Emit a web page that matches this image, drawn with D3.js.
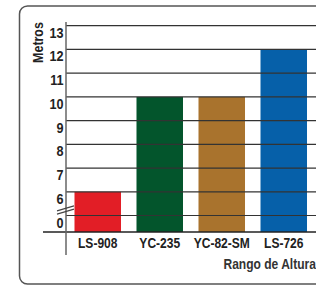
<!DOCTYPE html>
<html>
<head>
<meta charset="utf-8">
<script src="https://cdn.jsdelivr.net/npm/d3@7"></script>
<style>
  body { margin: 0; background: #fff; }
  svg text { font-family: 'Liberation Sans', Arial, sans-serif; }
</style>
</head>
<body>
<svg id="chart" width="316" height="286"></svg>
<script>
// chart data
const categories = ['LS-908', 'YC-235', 'YC-82-SM', 'LS-726'];
const heights = [6, 10, 10, 12];
const barColours = ['#e21e26', '#03552c', '#a9732d', '#0660a9'];
const tickValues = [0, 6, 7, 8, 9, 10, 11, 12, 13];

// the original uses a condensed face, so squeeze the text horizontally
const SQUEEZE = 0.83;

const svg = d3.select('#chart');

// rounded frame, cut off on the right like the original
svg.append('rect')
  .attr('x', 19.5).attr('y', 6)
  .attr('width', 330).attr('height', 278)
  .attr('rx', 8)
  .attr('fill', 'none')
  .attr('stroke', '#555')
  .attr('stroke-width', 1.5);

// broken axis: 0 sits just under 6, then 1 unit per step above
const y = d3.scaleLinear().domain([0, 6, 13]).range([215.5, 191.8, 25.7]);
const baseY = 232;

const x = d3.scaleBand()
  .domain(categories)
  .range([66, 315.5])
  .paddingInner(0.25)
  .paddingOuter(0.137);

// bars
svg.append('g')
  .selectAll('rect')
  .data(categories)
  .join('rect')
  .attr('x', (d) => x(d))
  .attr('width', x.bandwidth())
  .attr('y', (d, i) => y(heights[i]))
  .attr('height', (d, i) => baseY - y(heights[i]))
  .attr('fill', (d, i) => barColours[i]);

// gridlines drawn over the bars
svg.append('g')
  .attr('stroke', '#333')
  .attr('stroke-width', 1.2)
  .selectAll('line')
  .data(tickValues)
  .join('line')
  .attr('x1', 66).attr('x2', 316)
  .attr('y1', (d) => y(d)).attr('y2', (d) => y(d));

// baseline
svg.append('line')
  .attr('x1', 43).attr('x2', 316)
  .attr('y1', baseY).attr('y2', baseY)
  .attr('stroke', '#222').attr('stroke-width', 1.3);

// vertical axis
svg.append('line')
  .attr('x1', 66).attr('x2', 66)
  .attr('y1', 22).attr('y2', 255)
  .attr('stroke', '#666').attr('stroke-width', 1.5);

// break marks
const brk = svg.append('g').attr('stroke', '#444').attr('stroke-width', 1.1);
[-1.6, 1.6].forEach((o) => {
  brk.append('line')
    .attr('x1', 57).attr('y1', 212.5 + o)
    .attr('x2', 74).attr('y2', 207.5 + o);
});

// tick labels
svg.append('g')
  .selectAll('text')
  .data(tickValues)
  .join('text')
  .attr('transform', (d) => `translate(63.5,${y(d) + 12}) scale(0.87,1)`)
  .attr('text-anchor', 'end')
  .attr('font-size', 14.5)
  .attr('font-weight', 'bold')
  .attr('fill', '#222')
  .text((d) => d);

// category labels
svg.append('g')
  .selectAll('text')
  .data(categories)
  .join('text')
  .attr('transform', (d) => `translate(${x(d) + x.bandwidth() / 2},247.5) scale(${SQUEEZE},1)`)
  .attr('text-anchor', 'middle')
  .attr('font-size', 14.5)
  .attr('font-weight', 'bold')
  .attr('fill', '#222')
  .text((d) => d);

// axis titles
svg.append('text')
  .attr('transform', `translate(42.5,42.5) rotate(-90) scale(${SQUEEZE},1)`)
  .attr('text-anchor', 'middle')
  .attr('font-size', 15)
  .attr('font-weight', 'bold')
  .attr('fill', '#222')
  .text('Metros');

svg.append('text')
  .attr('transform', `translate(223.5,268.5) scale(${SQUEEZE},1)`)
  .attr('font-size', 14.5)
  .attr('font-weight', 'bold')
  .attr('fill', '#333')
  .text('Rango de Altura');
</script>
</body>
</html>
